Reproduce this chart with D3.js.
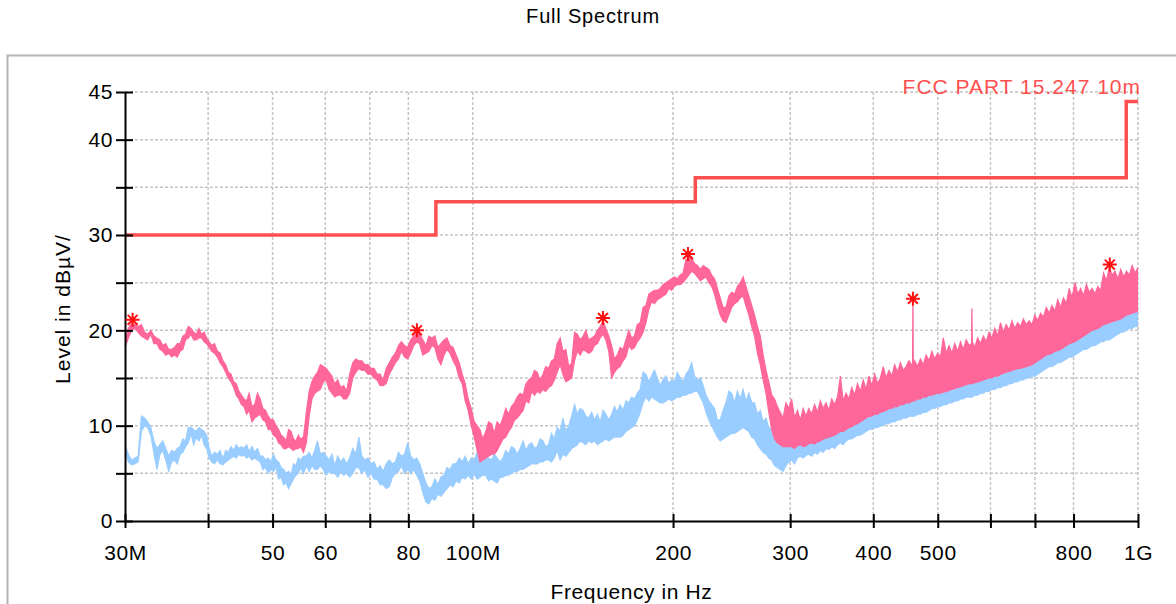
<!DOCTYPE html>
<html>
<head>
<meta charset="utf-8">
<script src="https://cdn.jsdelivr.net/npm/d3@7"></script>
<style>
  body { margin: 0; background: #fff; }
  text { font-family: "Liberation Sans", Arial, sans-serif; fill: #000; }
</style>
</head>
<body>
<div id="chart"></div>
<script>
// 1: DATA
// limit line: FCC PART 15.247 10m, stepped at each frequency
const limitFreq = [30, 88, 216, 960, 1000];
const limitLevel = [30, 33.5, 36, 44, 44];

// peak trace (pink): [MHz, low, high] per display column
const peakTrace = [
  // 30 - 100 MHz
  [30.0, 18.2, 18.8], [30.35, 19.2, 20.2], [30.7, 20.0, 20.8], [31.05, 20.2, 20.6], [31.4, 19.8, 20.4],
  [31.75, 19.4, 20.6], [32.1, 19.2, 19.8], [32.45, 19.0, 19.6], [32.8, 19.6, 20.0], [33.15, 18.6, 19.4],
  [33.5, 18.6, 19.2], [33.85, 18.0, 19.0], [34.2, 17.8, 18.4], [34.55, 17.4, 18.6], [34.9, 17.6, 18.0],
  [35.25, 17.2, 18.0], [35.6, 17.4, 18.2], [35.95, 17.2, 18.6], [36.3, 17.8, 18.6], [36.65, 18.0, 19.4],
  [37.0, 19.0, 19.6], [37.35, 19.2, 20.4], [37.7, 19.6, 20.2], [38.05, 19.0, 19.8], [38.4, 19.0, 19.6],
  [38.75, 19.2, 20.2], [39.1, 19.2, 19.6], [39.45, 18.8, 19.8], [39.8, 18.6, 19.2], [40.15, 18.2, 18.8],
  [40.5, 17.8, 18.4], [40.9, 17.6, 18.6], [41.3, 17.2, 17.8], [41.7, 16.6, 17.6], [42.1, 16.2, 16.8],
  [42.5, 15.6, 16.4], [42.9, 15.0, 15.6], [43.3, 14.6, 15.4], [43.7, 14.0, 14.6], [44.1, 13.2, 14.4],
  [44.5, 12.8, 13.6], [44.9, 12.2, 13.2], [45.3, 12.0, 12.8], [45.7, 11.2, 12.6], [46.1, 11.6, 13.4],
  [46.55, 10.4, 12.0], [47.0, 10.8, 12.2], [47.45, 11.0, 13.4], [47.9, 11.2, 12.8], [48.35, 10.6, 11.8],
  [48.8, 10.4, 11.6], [49.25, 9.6, 11.0], [49.7, 9.6, 10.6], [50.15, 9.0, 10.6], [50.6, 8.8, 10.0],
  [51.05, 8.2, 9.6], [51.5, 8.0, 9.0], [51.95, 7.6, 8.8], [52.4, 7.6, 8.4], [52.85, 7.8, 9.6],
  [53.3, 7.6, 9.4], [53.75, 7.4, 8.6], [54.2, 7.6, 8.4], [54.65, 7.6, 9.0], [55.1, 7.8, 8.6],
  [55.65, 7.2, 8.8], [56.2, 8.2, 11.4], [56.75, 11.0, 13.6], [57.3, 12.8, 14.6], [57.85, 13.4, 15.2],
  [58.4, 13.6, 15.6], [59.0, 13.8, 16.4], [59.6, 14.6, 16.2], [60.2, 14.8, 16.0], [60.8, 13.8, 15.6],
  [61.4, 13.4, 15.2], [62.0, 13.0, 14.4], [62.65, 13.2, 14.8], [63.3, 13.2, 14.0], [63.95, 12.8, 14.2],
  [64.6, 12.8, 13.6], [65.3, 13.4, 15.4], [66.0, 15.0, 16.6], [66.7, 15.6, 17.0], [67.4, 16.0, 16.8],
  [68.1, 15.8, 16.8], [68.8, 15.8, 16.4], [69.55, 15.4, 16.4], [70.3, 15.4, 16.0], [71.05, 15.0, 16.0],
  [71.8, 14.8, 15.4], [72.55, 14.2, 15.4], [73.3, 14.2, 14.8], [74.1, 14.4, 16.0], [74.9, 15.4, 16.6],
  [75.7, 16.0, 17.2], [76.5, 16.6, 17.6], [77.3, 17.0, 18.4], [78.1, 17.8, 18.8], [78.95, 17.2, 18.4],
  [79.8, 17.0, 18.2], [80.65, 17.6, 19.0], [81.5, 18.4, 19.4], [82.35, 18.8, 19.8], [83.2, 18.6, 19.6],
  [84.1, 17.4, 19.0], [85.0, 17.6, 18.4], [85.9, 17.8, 19.4], [86.8, 18.4, 19.2], [87.7, 18.2, 19.4],
  [88.6, 17.0, 18.2], [89.55, 16.4, 18.6], [90.5, 17.4, 19.0], [91.45, 18.0, 19.2], [92.4, 17.6, 18.4],
  [93.4, 16.8, 18.2], [94.4, 16.2, 17.4], [95.4, 15.0, 16.6], [96.4, 14.4, 15.4], [97.4, 12.6, 14.4],
  [98.4, 11.6, 12.8], [99.45, 10.0, 11.8],
  // 100 - 300 MHz
  [100.5, 8.8, 10.4], [101.5, 7.4, 10.0], [102.5, 6.2, 9.6], [103.5, 6.4, 8.6], [104.6, 6.6, 9.4],
  [105.6, 6.8, 10.4], [106.7, 7.0, 10.2], [107.7, 7.0, 9.2], [108.8, 7.4, 10.4], [109.9, 8.0, 10.0],
  [111.0, 8.6, 10.8], [112.1, 8.8, 11.8], [113.2, 9.4, 11.2], [114.3, 9.8, 12.0], [115.5, 10.6, 12.4],
  [116.6, 10.8, 13.0], [117.8, 11.2, 13.4], [119.0, 11.6, 13.2], [120.2, 12.6, 14.4], [121.4, 12.4, 14.8],
  [122.6, 13.6, 15.0], [123.8, 13.2, 15.8], [125.0, 13.6, 15.6], [126.2, 13.4, 14.8], [127.5, 13.8, 15.4],
  [128.7, 13.6, 16.2], [130.0, 14.0, 16.0], [131.3, 14.2, 16.8], [132.6, 14.8, 17.0], [133.9, 15.6, 18.6],
  [135.3, 16.4, 19.2], [136.6, 15.4, 17.8], [138.0, 14.6, 18.0], [139.4, 14.8, 16.2], [140.8, 15.0, 16.6],
  [142.2, 16.8, 19.8], [143.6, 17.8, 19.6], [145.0, 17.4, 19.0], [146.5, 18.0, 19.4], [147.9, 17.8, 20.0],
  [149.4, 17.6, 19.0], [150.9, 17.8, 19.2], [152.4, 18.4, 19.4], [153.9, 18.6, 20.0], [155.4, 19.2, 20.4],
  [157.0, 19.6, 21.0], [158.5, 19.0, 20.2], [160.1, 17.8, 19.4], [161.7, 15.0, 18.4], [163.3, 15.6, 17.0],
  [164.9, 16.0, 17.4], [166.5, 16.2, 18.2], [168.2, 16.8, 18.0], [169.9, 17.2, 19.0], [171.6, 18.4, 20.0],
  [173.3, 18.0, 19.2], [175.0, 18.2, 19.4], [176.7, 18.8, 20.6], [178.5, 19.2, 20.8], [180.3, 19.8, 22.4],
  [182.1, 20.8, 22.6], [183.9, 22.2, 23.8], [185.7, 23.0, 24.0], [187.5, 22.8, 24.2], [189.4, 23.2, 24.2],
  [191.3, 23.4, 24.4], [193.2, 23.6, 24.8], [195.1, 23.8, 25.0], [197.1, 24.4, 25.2], [199.0, 24.2, 25.4],
  [201.0, 24.6, 25.6], [203.0, 24.8, 25.4], [205.0, 24.8, 25.8], [207.0, 25.0, 26.0], [209.1, 25.4, 27.4],
  [211.2, 25.8, 27.8], [213.3, 26.2, 27.6], [215.4, 26.0, 27.0], [217.6, 25.6, 26.8], [219.8, 25.2, 26.4],
  [222.0, 25.4, 26.8], [224.2, 25.6, 26.6], [226.4, 25.0, 26.4], [228.6, 24.6, 25.8], [230.9, 23.8, 25.4],
  [233.2, 22.6, 24.4], [235.5, 21.6, 23.4], [237.8, 21.0, 22.4], [240.2, 20.8, 22.4], [242.6, 21.6, 23.6],
  [245.0, 22.4, 24.0], [247.4, 22.8, 23.8], [249.9, 23.0, 24.6], [252.4, 23.4, 25.0], [254.9, 23.6, 25.6],
  [257.4, 22.6, 24.6], [260.0, 21.6, 23.6], [262.6, 20.4, 22.6], [265.2, 19.4, 21.6], [267.8, 17.6, 20.4],
  [270.5, 16.4, 19.4], [273.2, 14.8, 17.4], [275.9, 13.4, 15.8], [278.6, 11.4, 14.6], [281.4, 9.6, 13.2],
  [284.2, 8.6, 12.8], [287.0, 8.2, 12.0], [289.8, 8.0, 11.4], [292.7, 7.8, 10.8], [295.6, 7.8, 12.4],
  [298.6, 7.8, 11.8],
  // 300 - 1000 MHz
  [301.5, 7.8, 12.8], [304.6, 7.6, 10.8], [307.6, 7.9, 11.6], [310.7, 8.0, 10.6], [313.8, 7.8, 11.8],
  [316.9, 7.9, 11.0], [320.0, 8.1, 11.8], [323.2, 8.2, 11.2], [326.4, 8.1, 12.2], [329.7, 8.3, 11.4],
  [333.0, 8.4, 12.6], [336.3, 8.6, 11.8], [339.6, 8.7, 12.4], [343.0, 8.8, 11.6], [346.4, 8.9, 12.8],
  [349.9, 9.0, 12.2], [353.4, 9.2, 13.0], [356.9, 9.4, 15.2], [360.4, 9.4, 12.6], [364.0, 9.6, 13.4],
  [367.6, 9.8, 12.8], [371.3, 9.9, 14.0], [375.0, 10.1, 13.2], [378.7, 10.2, 14.4], [382.5, 10.4, 13.6],
  [386.3, 10.6, 14.8], [390.1, 10.8, 13.8], [394.0, 11.0, 15.2], [397.9, 11.0, 14.2], [401.9, 11.2, 15.4],
  [405.9, 11.2, 14.4], [409.9, 11.4, 15.0], [414.0, 11.5, 16.2], [418.1, 11.6, 15.0], [422.3, 11.8, 15.8],
  [426.5, 11.8, 15.2], [430.7, 12.0, 16.4], [435.0, 12.0, 15.6], [439.3, 12.2, 16.6], [443.7, 12.2, 15.8],
  [448.1, 12.4, 16.2], [452.6, 12.4, 16.8], [458.2, 12.6, 16.2], [458.8, 12.6, 23.2], [459.4, 12.6, 16.4],
  [461.6, 12.6, 16.8], [466.2, 12.8, 16.2], [470.9, 12.8, 17.0], [475.6, 13.0, 16.4], [480.3, 13.0, 17.4],
  [485.1, 13.2, 16.8], [489.9, 13.2, 17.8], [494.8, 13.3, 17.0], [499.7, 13.4, 17.6], [504.7, 13.4, 17.2],
  [509.7, 13.5, 19.2], [514.8, 13.6, 17.6], [519.9, 13.7, 18.4], [525.1, 13.8, 17.6], [530.3, 13.9, 18.6],
  [535.6, 14.0, 17.8], [540.9, 14.1, 18.8], [546.3, 14.2, 18.0], [551.7, 14.3, 19.0], [557.2, 14.4, 18.4],
  [562.0, 14.4, 18.6], [562.7, 14.4, 22.3], [563.4, 14.4, 18.8], [568.3, 14.5, 18.2], [574.0, 14.6, 19.2],
  [579.7, 14.7, 18.6], [585.5, 14.8, 19.4], [591.3, 14.9, 18.8], [597.2, 15.0, 19.8], [603.1, 15.0, 19.2],
  [609.1, 15.2, 20.2], [615.2, 15.2, 19.4], [621.3, 15.4, 20.8], [627.5, 15.5, 19.8], [633.7, 15.6, 20.6],
  [640.0, 15.7, 20.0], [646.4, 15.8, 21.0], [652.8, 15.9, 20.2], [659.3, 16.0, 20.8], [665.9, 16.0, 20.4],
  [672.5, 16.1, 21.2], [679.2, 16.2, 20.6], [686.0, 16.3, 21.0], [692.8, 16.4, 20.6], [699.7, 16.6, 21.6],
  [706.7, 16.8, 21.0], [713.7, 17.0, 21.8], [720.8, 17.2, 21.4], [728.0, 17.4, 22.4], [735.3, 17.5, 21.8],
  [742.6, 17.6, 22.6], [750.0, 17.8, 22.0], [757.5, 17.9, 23.2], [765.0, 18.0, 22.4], [772.6, 18.2, 23.4],
  [780.3, 18.4, 22.8], [788.1, 18.6, 24.4], [795.9, 18.7, 23.4], [803.9, 18.8, 25.0], [811.9, 19.0, 23.8],
  [820.0, 19.2, 24.4], [828.2, 19.4, 23.6], [836.4, 19.6, 24.8], [844.7, 19.8, 24.0], [853.1, 20.0, 24.4],
  [861.6, 20.1, 23.8], [870.2, 20.2, 24.6], [878.9, 20.4, 24.2], [887.6, 20.6, 26.0], [896.5, 20.7, 25.2],
  [905.4, 20.8, 26.6], [914.4, 20.9, 25.8], [923.5, 21.0, 26.2], [932.7, 21.1, 25.4], [942.0, 21.2, 26.4],
  [951.4, 21.4, 25.6], [960.8, 21.6, 26.2], [970.4, 21.7, 25.8], [980.0, 21.8, 26.8], [989.9, 21.9, 26.0],
  [1000, 22.0, 26.6]
];

// average trace (blue): [MHz, low, high]
const avgTrace = [
  // 30 - 100 MHz
  [30.0, 7.4, 8.0], [30.35, 6.2, 7.0], [30.7, 5.9, 6.4], [31.05, 6.0, 6.6], [31.4, 6.2, 6.8],
  [31.75, 9.4, 11.0], [32.1, 10.0, 10.8], [32.45, 9.8, 10.4], [32.8, 9.0, 9.8], [33.15, 7.2, 8.4],
  [33.5, 5.4, 7.6], [33.85, 7.0, 8.0], [34.2, 7.4, 8.4], [34.55, 6.4, 7.6], [34.9, 5.2, 6.8],
  [35.25, 6.2, 7.4], [35.6, 6.4, 7.2], [35.95, 6.0, 7.6], [36.3, 7.0, 7.8], [36.65, 7.2, 8.6],
  [37.0, 7.8, 8.4], [37.35, 8.2, 9.8], [37.7, 9.2, 9.8], [38.05, 8.0, 9.6], [38.4, 8.8, 9.4],
  [38.75, 8.4, 9.8], [39.1, 9.0, 9.6], [39.45, 8.0, 9.4], [39.8, 7.6, 9.0], [40.15, 6.6, 7.6],
  [40.5, 6.2, 6.8], [40.9, 6.0, 7.2], [41.3, 6.4, 7.0], [41.7, 6.0, 7.4], [42.1, 5.9, 6.5],
  [42.5, 6.2, 7.4], [42.9, 6.4, 7.2], [43.3, 6.6, 7.8], [43.7, 6.8, 7.4], [44.1, 6.6, 8.0],
  [44.5, 7.0, 7.6], [44.9, 6.8, 7.8], [45.3, 6.9, 7.6], [45.7, 6.6, 8.0], [46.1, 6.8, 7.3],
  [46.55, 6.4, 7.8], [47.0, 6.6, 7.2], [47.45, 6.4, 7.6], [47.9, 6.2, 6.8], [48.35, 5.4, 6.8],
  [48.8, 5.6, 6.4], [49.25, 5.0, 6.6], [49.7, 5.4, 6.2], [50.15, 5.2, 7.0], [50.6, 5.6, 6.4],
  [51.05, 4.4, 6.2], [51.5, 4.6, 5.6], [51.95, 3.8, 5.4], [52.4, 4.0, 5.0], [52.85, 3.4, 5.2],
  [53.3, 3.9, 4.8], [53.75, 4.4, 6.0], [54.2, 4.8, 5.8], [54.65, 5.0, 6.6], [55.1, 5.6, 6.4],
  [55.65, 5.0, 6.8], [56.2, 5.8, 6.8], [56.75, 5.2, 7.2], [57.3, 5.8, 6.6], [57.85, 5.4, 7.4],
  [58.4, 5.4, 8.4], [59.0, 5.8, 7.0], [59.6, 5.4, 7.2], [60.2, 4.8, 6.8], [60.8, 5.2, 6.4],
  [61.4, 5.0, 7.0], [62.0, 5.0, 5.8], [62.65, 4.6, 6.8], [63.3, 5.2, 6.2], [63.95, 4.8, 6.6],
  [64.6, 5.0, 6.0], [65.3, 4.6, 6.6], [66.0, 5.0, 7.6], [66.7, 5.6, 7.0], [67.4, 5.6, 8.8],
  [68.1, 5.0, 6.8], [68.8, 5.4, 6.4], [69.55, 4.6, 6.6], [70.3, 5.0, 6.0], [71.05, 4.4, 6.2],
  [71.8, 4.4, 5.4], [72.55, 3.8, 5.8], [73.3, 3.8, 5.2], [74.1, 3.4, 6.0], [74.9, 3.6, 6.4],
  [75.7, 4.6, 6.0], [76.5, 5.0, 6.2], [77.3, 5.2, 7.2], [78.1, 5.8, 6.8], [78.95, 5.0, 7.0],
  [79.8, 5.4, 8.2], [80.65, 5.0, 6.8], [81.5, 5.4, 6.4], [82.35, 4.8, 6.6], [83.2, 4.2, 6.0],
  [84.1, 3.0, 5.0], [85.0, 2.0, 4.0], [85.9, 1.8, 3.4], [86.8, 2.4, 3.6], [87.7, 2.2, 4.4],
  [88.6, 2.8, 3.8], [89.55, 2.6, 4.6], [90.5, 3.0, 4.8], [91.45, 3.4, 5.6], [92.4, 3.8, 5.4],
  [93.4, 3.6, 6.0], [94.4, 4.2, 6.0], [95.4, 4.0, 6.6], [96.4, 4.6, 6.2], [97.4, 4.4, 6.8],
  [98.4, 4.8, 6.0], [99.45, 4.4, 6.6],
  // 100 - 300 MHz
  [100.5, 4.9, 6.4], [101.5, 4.4, 7.2], [102.5, 4.6, 7.0], [103.5, 4.8, 6.2], [104.6, 4.8, 6.8],
  [105.6, 4.2, 6.6], [106.7, 4.4, 6.4], [107.7, 4.2, 7.0], [108.8, 4.0, 6.6], [109.9, 4.6, 6.2],
  [111.0, 4.6, 6.6], [112.1, 4.8, 7.4], [113.2, 4.8, 7.0], [114.3, 5.0, 7.8], [115.5, 5.2, 7.6],
  [116.6, 5.2, 7.0], [117.8, 5.4, 7.6], [119.0, 5.4, 8.4], [120.2, 5.6, 7.4], [121.4, 5.8, 8.0],
  [122.6, 6.0, 8.2], [123.8, 6.0, 7.6], [125.0, 6.0, 7.8], [126.2, 6.2, 8.6], [127.5, 6.2, 8.4],
  [128.7, 6.4, 7.8], [130.0, 6.4, 8.0], [131.3, 6.2, 9.2], [132.6, 6.6, 8.6], [133.9, 7.4, 9.8],
  [135.3, 6.4, 9.4], [136.6, 7.0, 10.8], [138.0, 6.8, 9.4], [139.4, 7.2, 10.0], [140.8, 7.6, 11.0],
  [142.2, 7.8, 12.2], [143.6, 8.0, 11.2], [145.0, 8.4, 11.8], [146.5, 8.2, 11.6], [147.9, 8.0, 11.0],
  [149.4, 8.4, 10.8], [150.9, 8.2, 11.4], [152.4, 8.4, 10.6], [153.9, 8.0, 11.2], [155.4, 8.2, 10.4],
  [157.0, 8.4, 11.6], [158.5, 8.6, 11.2], [160.1, 8.4, 10.6], [161.7, 8.6, 11.2], [163.3, 8.8, 12.0],
  [164.9, 8.8, 11.4], [166.5, 8.8, 12.2], [168.2, 9.0, 11.6], [169.9, 9.4, 12.6], [171.6, 9.6, 12.4],
  [173.3, 9.8, 13.0], [175.0, 10.0, 12.8], [176.7, 10.6, 13.4], [178.5, 11.4, 13.8], [180.3, 12.4, 15.6],
  [182.1, 13.0, 15.4], [183.9, 12.6, 14.6], [185.7, 13.0, 15.2], [187.5, 12.8, 15.8], [189.4, 12.6, 15.0],
  [191.3, 12.4, 14.2], [193.2, 12.4, 14.8], [195.1, 12.6, 15.2], [197.1, 12.8, 14.4], [199.0, 12.6, 14.8],
  [201.0, 12.8, 14.6], [203.0, 13.0, 15.6], [205.0, 13.0, 15.0], [207.0, 13.2, 14.6], [209.1, 13.2, 15.4],
  [211.2, 13.4, 15.8], [213.3, 13.4, 16.6], [215.4, 13.6, 15.2], [217.6, 13.6, 14.8], [219.8, 13.0, 15.0],
  [222.0, 12.4, 14.2], [224.2, 11.4, 13.2], [226.4, 10.6, 12.6], [228.6, 10.0, 12.2], [230.9, 9.4, 11.8],
  [233.2, 8.8, 10.6], [235.5, 8.4, 10.6], [237.8, 8.6, 11.6], [240.2, 8.8, 12.4], [242.6, 9.0, 13.6],
  [245.0, 9.2, 13.4], [247.4, 9.2, 12.4], [249.9, 9.4, 13.6], [252.4, 9.6, 12.8], [254.9, 9.8, 13.8],
  [257.4, 9.6, 12.6], [260.0, 9.4, 13.4], [262.6, 8.8, 12.4], [265.2, 8.6, 12.4], [267.8, 8.0, 11.2],
  [270.5, 7.6, 11.6], [273.2, 7.2, 10.4], [275.9, 7.0, 10.8], [278.6, 6.6, 9.8], [281.4, 6.4, 9.6],
  [284.2, 5.8, 9.4], [287.0, 5.6, 9.2], [289.8, 5.4, 8.6], [292.7, 5.2, 8.4], [295.6, 5.8, 8.8],
  [298.6, 6.2, 8.6],
  // 300 - 1000 MHz
  [301.5, 6.4, 8.6], [304.6, 6.0, 8.4], [307.6, 6.6, 8.6], [310.7, 6.8, 8.8], [313.8, 6.6, 8.6],
  [316.9, 6.9, 8.8], [320.0, 7.0, 8.8], [323.2, 6.8, 9.0], [326.4, 7.2, 9.0], [329.7, 7.0, 9.2],
  [333.0, 7.4, 9.2], [336.3, 7.2, 9.4], [339.6, 7.6, 9.6], [343.0, 7.5, 9.6], [346.4, 7.8, 9.8],
  [349.9, 7.6, 9.8], [353.4, 8.0, 10.0], [356.9, 8.2, 10.2], [360.4, 8.0, 10.2], [364.0, 8.4, 10.4],
  [367.6, 8.6, 10.6], [371.3, 8.6, 10.8], [375.0, 8.8, 10.8], [378.7, 9.0, 11.0], [382.5, 9.0, 11.2],
  [386.3, 9.2, 11.4], [390.1, 9.4, 11.6], [394.0, 9.6, 11.8], [397.9, 9.6, 11.8], [401.9, 9.8, 12.0],
  [405.9, 9.8, 12.0], [409.9, 10.0, 12.2], [414.0, 10.0, 12.2], [418.1, 10.2, 12.4], [422.3, 10.2, 12.4],
  [426.5, 10.4, 12.6], [430.7, 10.4, 12.6], [435.0, 10.6, 12.8], [439.3, 10.6, 12.8], [443.7, 10.8, 13.0],
  [448.1, 10.8, 13.0], [452.6, 11.0, 13.2], [461.6, 11.0, 13.2], [466.2, 11.2, 13.4], [470.9, 11.2, 13.4],
  [475.6, 11.4, 13.6], [480.3, 11.4, 13.6], [485.1, 11.6, 13.8], [489.9, 11.8, 13.8], [494.8, 11.8, 14.0],
  [499.7, 12.0, 14.0], [504.7, 12.0, 14.2], [509.7, 12.2, 14.2], [514.8, 12.2, 14.4], [519.9, 12.4, 14.4],
  [525.1, 12.4, 14.6], [530.3, 12.6, 14.6], [535.6, 12.6, 14.8], [540.9, 12.8, 14.8], [546.3, 12.8, 15.0],
  [551.7, 13.0, 15.0], [557.2, 13.0, 15.2], [562.7, 13.0, 15.2], [568.3, 13.2, 15.4], [574.0, 13.2, 15.4],
  [579.7, 13.4, 15.6], [585.5, 13.4, 15.6], [591.3, 13.6, 15.8], [597.2, 13.6, 15.8], [603.1, 13.8, 16.0],
  [609.1, 13.8, 16.0], [615.2, 14.0, 16.2], [621.3, 14.0, 16.2], [627.5, 14.2, 16.4], [633.7, 14.2, 16.4],
  [640.0, 14.4, 16.6], [646.4, 14.4, 16.6], [652.8, 14.6, 16.8], [659.3, 14.6, 16.8], [665.9, 14.8, 17.0],
  [672.5, 14.8, 17.0], [679.2, 15.0, 17.2], [686.0, 15.0, 17.2], [692.8, 15.2, 17.4], [699.7, 15.2, 17.6],
  [706.7, 15.4, 17.8], [713.7, 15.6, 18.0], [720.8, 15.8, 18.2], [728.0, 16.0, 18.4], [735.3, 16.2, 18.6],
  [742.6, 16.2, 18.8], [750.0, 16.4, 19.0], [757.5, 16.6, 19.0], [765.0, 16.6, 19.2], [772.6, 16.8, 19.4],
  [780.3, 17.0, 19.6], [788.1, 17.2, 19.8], [795.9, 17.2, 20.0], [803.9, 17.4, 20.2], [811.9, 17.6, 20.4],
  [820.0, 17.8, 20.6], [828.2, 18.0, 20.8], [836.4, 18.0, 20.8], [844.7, 18.2, 21.0], [853.1, 18.4, 21.2],
  [861.6, 18.4, 21.2], [870.2, 18.6, 21.4], [878.9, 18.8, 21.6], [887.6, 18.8, 21.6], [896.5, 19.0, 21.8],
  [905.4, 19.0, 22.0], [914.4, 19.2, 22.0], [923.5, 19.4, 22.2], [932.7, 19.6, 22.4], [942.0, 19.8, 22.6],
  [951.4, 19.8, 22.6], [960.8, 20.0, 22.8], [970.4, 20.2, 22.8], [980.0, 20.2, 23.0], [989.9, 20.4, 23.0],
  [1000, 20.4, 23.2]
];

// peak markers
const markerFreq = [30.8, 82.4, 156.9, 210.6, 458.8, 907];
const markerLevel = [21.1, 20.0, 21.3, 28.0, 23.3, 26.9];

// ticks
const xTicks = [30, 40, 50, 60, 70, 80, 100, 200, 300, 400, 500, 600, 700, 800, 1000];
const xTickLabels = ["30M", "", "50", "60", "", "80", "100M", "200", "300", "400", "500", "", "", "800", "1G"];
const yTicks = [0, 5, 10, 15, 20, 25, 30, 35, 40, 45];
const yTickLabels = ["0", "", "10", "", "20", "", "30", "", "40", "45"];

// 2: SVG + SCALES
const W = 1176, H = 604;
const plot = { left: 125, right: 1138, top: 92, bottom: 521 };

const svg = d3.select("#chart").append("svg")
    .attr("width", W)
    .attr("height", H);

// outer frame
svg.append("rect")
    .attr("x", 7.5).attr("y", 55.5)
    .attr("width", 1185).attr("height", 570)
    .attr("fill", "#fff")
    .attr("stroke", "#b4b4b4")
    .attr("stroke-width", 2);

const x = d3.scaleLog().domain([30, 1000]).range([plot.left, plot.right]);
const y = d3.scaleLinear().domain([0, 45]).range([plot.bottom, plot.top]);

svg.append("defs").append("clipPath").attr("id", "clip")
  .append("rect")
    .attr("x", plot.left).attr("y", plot.top - 2)
    .attr("width", plot.right - plot.left).attr("height", plot.bottom - plot.top + 2);

// 3: GRID
const grid = svg.append("g")
    .attr("stroke", "#c4c4c4")
    .attr("stroke-width", 1.5)
    .attr("stroke-dasharray", "3,2");

grid.selectAll("line.v").data(xTicks.slice(1)).join("line")
    .attr("class", "v")
    .attr("x1", d => x(d)).attr("x2", d => x(d))
    .attr("y1", plot.top).attr("y2", plot.bottom);

grid.selectAll("line.h").data(yTicks.slice(1)).join("line")
    .attr("class", "h")
    .attr("x1", plot.left).attr("x2", plot.right)
    .attr("y1", d => y(d)).attr("y2", d => y(d));

// 4: TRACES
const band = d3.area()
    .x(d => x(d[0]))
    .y0(d => y(d[1]))
    .y1(d => y(d[2]));

const traces = svg.append("g").attr("clip-path", "url(#clip)");

traces.append("path")
    .datum(avgTrace)
    .attr("fill", "#99ccff")
    .attr("stroke", "#99ccff")
    .attr("stroke-width", 1.2)
    .attr("d", band);

traces.append("path")
    .datum(peakTrace)
    .attr("fill", "#ff6699")
    .attr("stroke", "#ff6699")
    .attr("stroke-width", 1.2)
    .attr("d", band);

// limit line
const limitLine = d3.line()
    .x(d => x(d[0]))
    .y(d => y(d[1]))
    .curve(d3.curveStepAfter);

svg.append("path")
    .datum(limitFreq.map((f, i) => [f, limitLevel[i]]))
    .attr("fill", "none")
    .attr("stroke", "#ff4f4f")
    .attr("stroke-width", 3.5)
    .attr("d", limitLine);

// 5: AXES
const yAxis = svg.append("g")
    .attr("transform", `translate(${plot.left},0)`)
    .call(d3.axisLeft(y).tickValues(yTicks)
        .tickFormat((d, i) => yTickLabels[i])
        .tickSize(9).tickSizeOuter(0).tickPadding(3));

yAxis.selectAll(".tick line").attr("x1", 8);

const xAxis = svg.append("g")
    .attr("transform", `translate(0,${plot.bottom})`)
    .call(d3.axisBottom(x).tickValues(xTicks)
        .tickFormat((d, i) => xTickLabels[i])
        .tickSize(7).tickSizeOuter(0).tickPadding(17));

xAxis.selectAll(".tick line").attr("y1", -7);

[xAxis, yAxis].forEach(a => {
  a.select(".domain").attr("stroke", "#000").attr("stroke-width", 2);
  a.selectAll(".tick line").attr("stroke", "#000").attr("stroke-width", 2);
  a.selectAll(".tick text")
      .style("font-size", "21px")
      .style("letter-spacing", "0.6px")
      .attr("fill", "#000");
});

// 6: MARKERS
const asterisk = {
  draw(ctx, size) {
    const r = Math.sqrt(size) / 2;
    const k = r * Math.SQRT1_2;
    ctx.moveTo(0, -r); ctx.lineTo(0, r);
    ctx.moveTo(-r, 0); ctx.lineTo(r, 0);
    ctx.moveTo(-k, -k); ctx.lineTo(k, k);
    ctx.moveTo(-k, k); ctx.lineTo(k, -k);
  }
};

svg.append("g").selectAll("path")
    .data(markerFreq.map((f, i) => [f, markerLevel[i]]))
    .join("path")
    .attr("transform", d => `translate(${x(d[0])},${y(d[1])})`)
    .attr("d", d3.symbol().type(asterisk).size(196))
    .attr("fill", "none")
    .attr("stroke", "#ff1010")
    .attr("stroke-width", 2);

// 7: LABELS
svg.append("text")
    .attr("x", 593).attr("y", 23)
    .attr("text-anchor", "middle")
    .style("font-size", "20px")
    .style("letter-spacing", "0.8px")
    .text("Full Spectrum");

svg.append("text")
    .attr("x", 1141).attr("y", 94)
    .attr("text-anchor", "end")
    .style("font-size", "21px")
    .style("letter-spacing", "1px")
    .style("fill", "#ff4f4f")
    .text("FCC PART 15.247 10m");

svg.append("text")
    .attr("transform", "translate(70,309) rotate(-90)")
    .attr("text-anchor", "middle")
    .style("font-size", "21px")
    .style("letter-spacing", "1px")
    .text("Level in dBµV/");

svg.append("text")
    .attr("x", (plot.left + plot.right) / 2).attr("y", 599)
    .attr("text-anchor", "middle")
    .style("font-size", "21px")
    .style("letter-spacing", "0.6px")
    .text("Frequency in Hz");
</script>
</body>
</html>
